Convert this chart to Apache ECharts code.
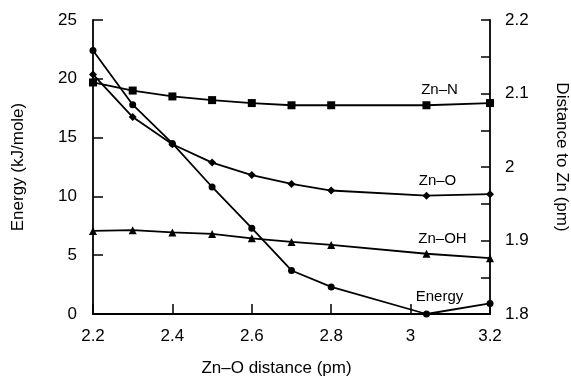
<!DOCTYPE html>
<html>
<head>
<meta charset="utf-8">
<script src="https://cdn.jsdelivr.net/npm/echarts@6/dist/echarts.min.js"></script>
<style>html,body{margin:0;padding:0;background:#fff;}#c{width:571px;height:384px;}</style>
</head>
<body>
<div id="c"></div>
<script>
// Data
const xValues   = [2.2, 2.3, 2.4, 2.5, 2.6, 2.7, 2.8, 3.04, 3.2];
const energy    = [22.4, 17.8, 14.5, 10.8, 7.3, 3.7, 2.3, 0.0, 0.9];
const znN       = [2.115, 2.104, 2.096, 2.091, 2.087, 2.084, 2.084, 2.084, 2.087];
const znO       = [2.126, 2.068, 2.031, 2.006, 1.989, 1.977, 1.968, 1.961, 1.963];
const znOH      = [1.913, 1.914, 1.911, 1.909, 1.903, 1.898, 1.894, 1.882, 1.876];
const seriesNames = ['Energy', 'Zn\u2013N', 'Zn\u2013O', 'Zn\u2013OH'];
const labelIndex = 7;

const FONT = '"Liberation Sans", Arial, Helvetica, sans-serif';
const INK = '#000';

function makeData(vals, offset) {
  return xValues.map((x, i) => {
    const item = { value: [x, vals[i]] };
    if (i === labelIndex) {
      item.label = {
        show: true, position: 'top', offset: offset,
        formatter: '{a}', color: INK, fontSize: 15, fontFamily: FONT
      };
    }
    return item;
  });
}

const lineStyle = { color: INK, width: 1.8 };
const itemStyle = { color: INK };

const option = {
  animation: false,
  backgroundColor: '#fff',
  grid: { left: 93, right: 81, top: 20, bottom: 70, containLabel: false, outerBoundsMode: 'none' },
  xAxis: {
    type: 'value', min: 2.2, max: 3.2, interval: 0.2,
    name: 'Zn\u2013O distance (pm)', nameLocation: 'middle', nameGap: 46,
    nameTextStyle: { color: INK, fontSize: 17, fontFamily: FONT, padding: [0, 30, 0, 0] },
    axisLine: { lineStyle: { color: INK, width: 1.8 } },
    axisTick: { inside: true, length: 10, lineStyle: { color: INK, width: 1.5 } },
    axisLabel: { color: INK, fontSize: 17, fontFamily: FONT, margin: 14,
      formatter: v => String(+v.toFixed(1)) },
    splitLine: { show: false }
  },
  yAxis: [
    {
      type: 'value', min: 0, max: 25, interval: 5, position: 'left',
      name: 'Energy (kJ/mole)', nameLocation: 'middle', nameGap: 66,
      nameTextStyle: { color: INK, fontSize: 17, fontFamily: FONT },
      axisLine: { show: true, lineStyle: { color: INK, width: 1.8 } },
      axisTick: { show: true, inside: true, length: 10, lineStyle: { color: INK, width: 1.5 } },
      axisLabel: { color: INK, fontSize: 17, fontFamily: FONT, margin: 16 },
      splitLine: { show: false }
    },
    {
      type: 'value', min: 1.8, max: 2.2, interval: 0.05, position: 'right',
      name: 'Distance to Zn (pm)', nameLocation: 'middle', nameGap: 63, nameRotate: -90,
      nameTextStyle: { color: INK, fontSize: 17, fontFamily: FONT, padding: [0, 20, 0, 0] },
      axisLine: { show: true, lineStyle: { color: INK, width: 1.8 } },
      axisTick: { show: true, inside: true, length: 9, lineStyle: { color: INK, width: 1.5 } },
      axisLabel: { color: INK, fontSize: 17, fontFamily: FONT, margin: 15,
        formatter: v => { const k = Math.round(v * 100); return k % 10 === 0 ? String(+v.toFixed(1)) : ''; } },
      splitLine: { show: false }
    }
  ],
  series: [
    { name: seriesNames[0], type: 'line', yAxisIndex: 0, symbol: 'circle', symbolSize: 7,
      lineStyle, itemStyle, data: makeData(energy, [13, -1]) },
    { name: seriesNames[1], type: 'line', yAxisIndex: 1, symbol: 'rect', symbolSize: 8,
      lineStyle, itemStyle, data: makeData(znN, [13, 1]) },
    { name: seriesNames[2], type: 'line', yAxisIndex: 1, symbol: 'diamond', symbolSize: 8,
      lineStyle, itemStyle, data: makeData(znO, [11, 2]) },
    { name: seriesNames[3], type: 'line', yAxisIndex: 1, symbol: 'triangle', symbolSize: 8,
      lineStyle, itemStyle, data: makeData(znOH, [16, 2]) }
  ]
};

const chart = echarts.init(document.getElementById('c'), null, { renderer: 'canvas' });
chart.setOption(option);
</script>
</body>
</html>
